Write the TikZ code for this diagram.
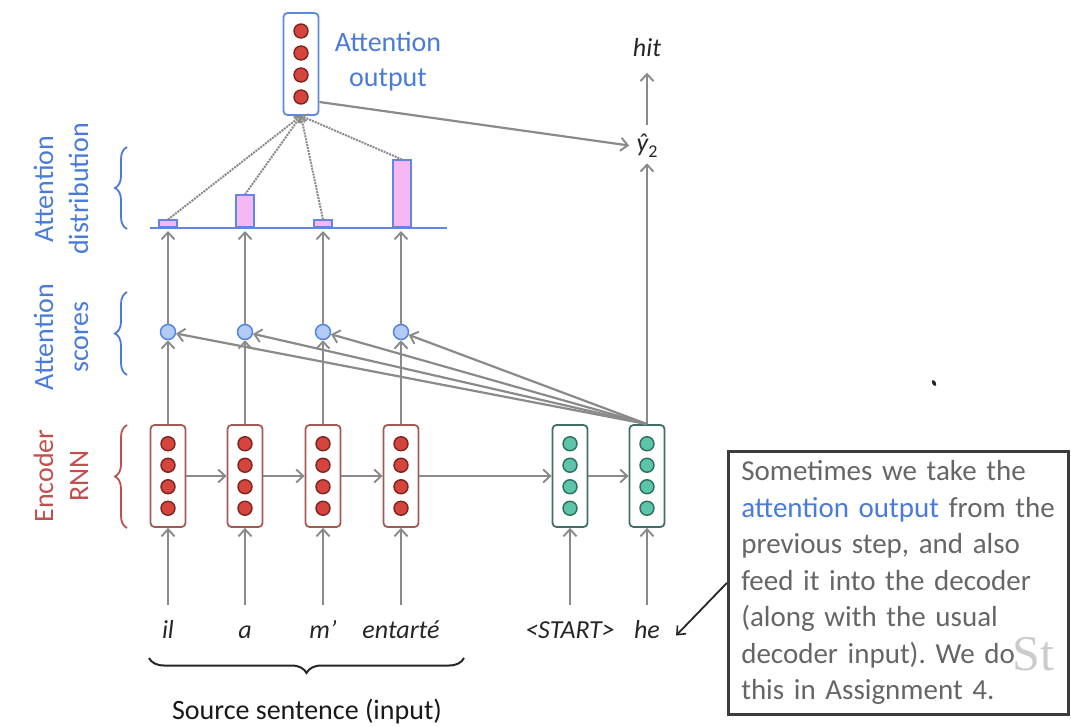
\documentclass[tikz,border=0pt]{standalone}
\usepackage{fontspec}
\setmainfont{Carlito}
\newfontfamily\bgserif{Liberation Serif}
\usetikzlibrary{arrows.meta,decorations.pathreplacing,calc}
\frenchspacing

\definecolor{arrowgray}{HTML}{8A8A8A}
\definecolor{encfill}{HTML}{D6453D}
\definecolor{encdraw}{HTML}{7B2420}
\definecolor{encbox}{HTML}{A35A55}
\definecolor{decfill}{HTML}{5CC4A9}
\definecolor{decdraw}{HTML}{2E6E60}
\definecolor{decbox}{HTML}{3F6F66}
\definecolor{attnblue}{HTML}{5B8AE0}
\definecolor{labelblue}{HTML}{4A7BDB}
\definecolor{labelred}{HTML}{C0504D}
\definecolor{scorefill}{HTML}{B3CBF4}
\definecolor{scoredraw}{HTML}{5585E0}
\definecolor{barfill}{HTML}{F6B8F4}
\definecolor{bardraw}{HTML}{6385E6}
\definecolor{notegray}{HTML}{666666}
\definecolor{noteborder}{HTML}{3C3C3C}

\tikzset{
  arr/.style={draw=arrowgray, line width=2.2pt,
    -{Straight Barb[length=7pt,width=13pt,line width=1.9pt]}},
  dotarr/.style={draw=arrowgray, densely dotted, line width=2pt,
    -{Straight Barb[length=5pt,width=9pt,line width=1.5pt]}},
  vecbox/.style={draw=#1, line width=1.8pt, rounded corners=4pt, fill=white,
    minimum width=35pt, minimum height=102pt, inner sep=0pt},
  word/.style={font=\fontsize{26}{30}\selectfont\itshape, text=black!85,
    text height=19pt, text depth=6pt, inner xsep=4pt, inner ysep=14pt, anchor=base},
  scorept/.style={circle, draw=scoredraw, fill=scorefill, line width=1.5pt,
    minimum size=15pt, inner sep=0pt},
  attnbar/.style={rectangle, draw=bardraw, fill=barfill, line width=1.5pt,
    minimum width=18pt, inner sep=0pt, anchor=south},
  sidelabel/.style={rotate=90, align=center, font=\fontsize{28}{35}\selectfont},
  sidebrace/.style={decorate, decoration={brace, amplitude=12pt}, line width=1.8pt},
}

\begin{document}
\begin{tikzpicture}[x=1pt,y=-1pt]
\useasboundingbox (0,0) rectangle (1071,727);

% ---------- encoder and decoder hidden states ----------
\foreach \i/\x in {1/168,2/245,3/323,4/401}{
  \node[vecbox=encbox] (enc\i) at (\x,476) {};
  \foreach \cy in {-32.25,-10.75,10.75,32.25}
    \filldraw[fill=encfill, draw=encdraw, line width=1.4pt] (\x,476+\cy) circle (7pt);
}
\foreach \i/\x in {1/570,2/647}{
  \node[vecbox=decbox] (dec\i) at (\x,476) {};
  \foreach \cy in {-32.25,-10.75,10.75,32.25}
    \filldraw[fill=decfill, draw=decdraw, line width=1.4pt] (\x,476+\cy) circle (7pt);
}

% ---------- attention output vector ----------
\node[vecbox=attnblue] (attn) at (301,64) {};
\foreach \cy in {-33,-11,11,33}
  \filldraw[fill=encfill, draw=encdraw, line width=1.4pt] (301,64+\cy) circle (7pt);
\node[align=center, text=labelblue, font=\fontsize{28}{35}\selectfont] (attnlbl) at (388,62)
  {Attention\\output};

% ---------- input words ----------
\node[word] (w1) at (168,638) {il};
\node[word] (w2) at (245,638) {a};
\node[word] (w3) at (323,638) {m’};
\node[word] (w4) at (401,638) {entarté};
\node[word] (w5) at (570,638) {<START>};
\node[word] (w6) at (647,638) {he};

% ---------- outputs ----------
\node[font=\fontsize{26}{30}\selectfont\itshape, text=black!85, anchor=base] (yhat) at (647,152)
  {ŷ\raisebox{-0.22em}{\fontsize{18}{20}\upshape\selectfont 2}};
\node[font=\fontsize{26}{30}\selectfont\itshape, text=black!85, anchor=base] (hit) at (647,57) {hit};

% ---------- attention scores and distribution ----------
\foreach \i/\x in {1/168,2/245,3/323,4/401}{
  \node[scorept] (s\i) at (\x,332) {};
  \coordinate (b\i) at (\x,231);
}
\foreach \i in {1,2,3,4}{
  \draw[arr] (w\i.north) -- (enc\i.south);
  \draw[arr] (enc\i.north) -- (s\i.south);
  \draw[arr] (s\i.north) -- (b\i);
  \draw[arr] (dec2.north) -- (s\i);
}
\draw[arr] (w5.north) -- (dec1.south);
\draw[arr] (w6.north) -- (dec2.south);
\draw[arr] (enc1.east) -- (enc2.west);
\draw[arr] (enc2.east) -- (enc3.west);
\draw[arr] (enc3.east) -- (enc4.west);
\draw[arr] (enc4.east) -- (dec1.west);
\draw[arr] (dec1.east) -- (dec2.west);
\draw[arr, shorten >=2pt] (dec2.north) -- (yhat.south);
\draw[arr, shorten <=6pt, shorten >=12pt] (yhat.north) -- (hit.south);
\draw[arr, shorten >=4pt] ([yshift=-38pt]attn.east) -- (yhat.west);

% baseline and bars
\draw[draw=bardraw, line width=2.5pt] (150,228) coordinate (base0) -- (447,228) coordinate (base1);
\node[attnbar, minimum height=7pt]  (bar1) at (168,228) {};
\node[attnbar, minimum height=32pt] (bar2) at (245,228) {};
\node[attnbar, minimum height=7pt]  (bar3) at (323,228) {};
\node[attnbar, minimum height=67pt] (bar4) at (402,228) {};
\foreach \i in {1,2,3,4}
  \draw[dotarr] (bar\i.north) -- (attn.south);

% ---------- left-hand braces and labels ----------
\draw[sidebrace, draw=labelblue] (127,229) -- (127,147);
\draw[sidebrace, draw=labelblue] (127,375) -- (127,292);
\draw[sidebrace, draw=labelred]  (127,528) -- (127,425);
\node[sidelabel, text=labelblue] (lbldist) at (61,189) {Attention\\distribution};
\node[sidelabel, text=labelblue] (lblscore) at (61,337) {Attention\\scores};
\node[sidelabel, text=labelred]  (lblenc) at (61,476) {Encoder\\RNN};

% ---------- source sentence brace ----------
\draw[decorate, decoration={brace, amplitude=15pt}, line width=2pt, draw=black!85]
  (464,658) -- (149,658);
\node[font=\fontsize{28}{32}\selectfont, text=black!90] (srclbl) at (307,712) {Source sentence (input)};

\fill[black!85, rotate around={-60:(934,383)}] (934,383) ellipse (3.2pt and 1.8pt);

% ---------- note ----------
\node[draw=noteborder, line width=2.6pt, fill=white, anchor=north west,
      minimum width=340pt, minimum height=263pt, inner xsep=13pt,
      text width=314pt, align=left, text=notegray,
      font=\fontsize{29}{36.5}\selectfont] (note) at (727,450)
  {Sometimes we take the\\
   \textcolor{labelblue}{attention output} from the\\
   previous step, and also\\
   feed it into the decoder\\
   (along with the usual\\
   decoder input). We do\\
   this in Assignment 4.};
\draw[line width=1.8pt, draw=black!85,
      -{Straight Barb[length=7pt,width=12pt,line width=1.6pt]}]
  (note.west) -- ([xshift=12pt,yshift=-4pt]w6.east);

% faint lettering showing through at the right edge
\node[font=\bgserif\fontsize{50}{50}\selectfont, text=black!20, anchor=base west, inner sep=0pt] (bgtext) at (1012,670) {St};
\end{tikzpicture}
\end{document}
